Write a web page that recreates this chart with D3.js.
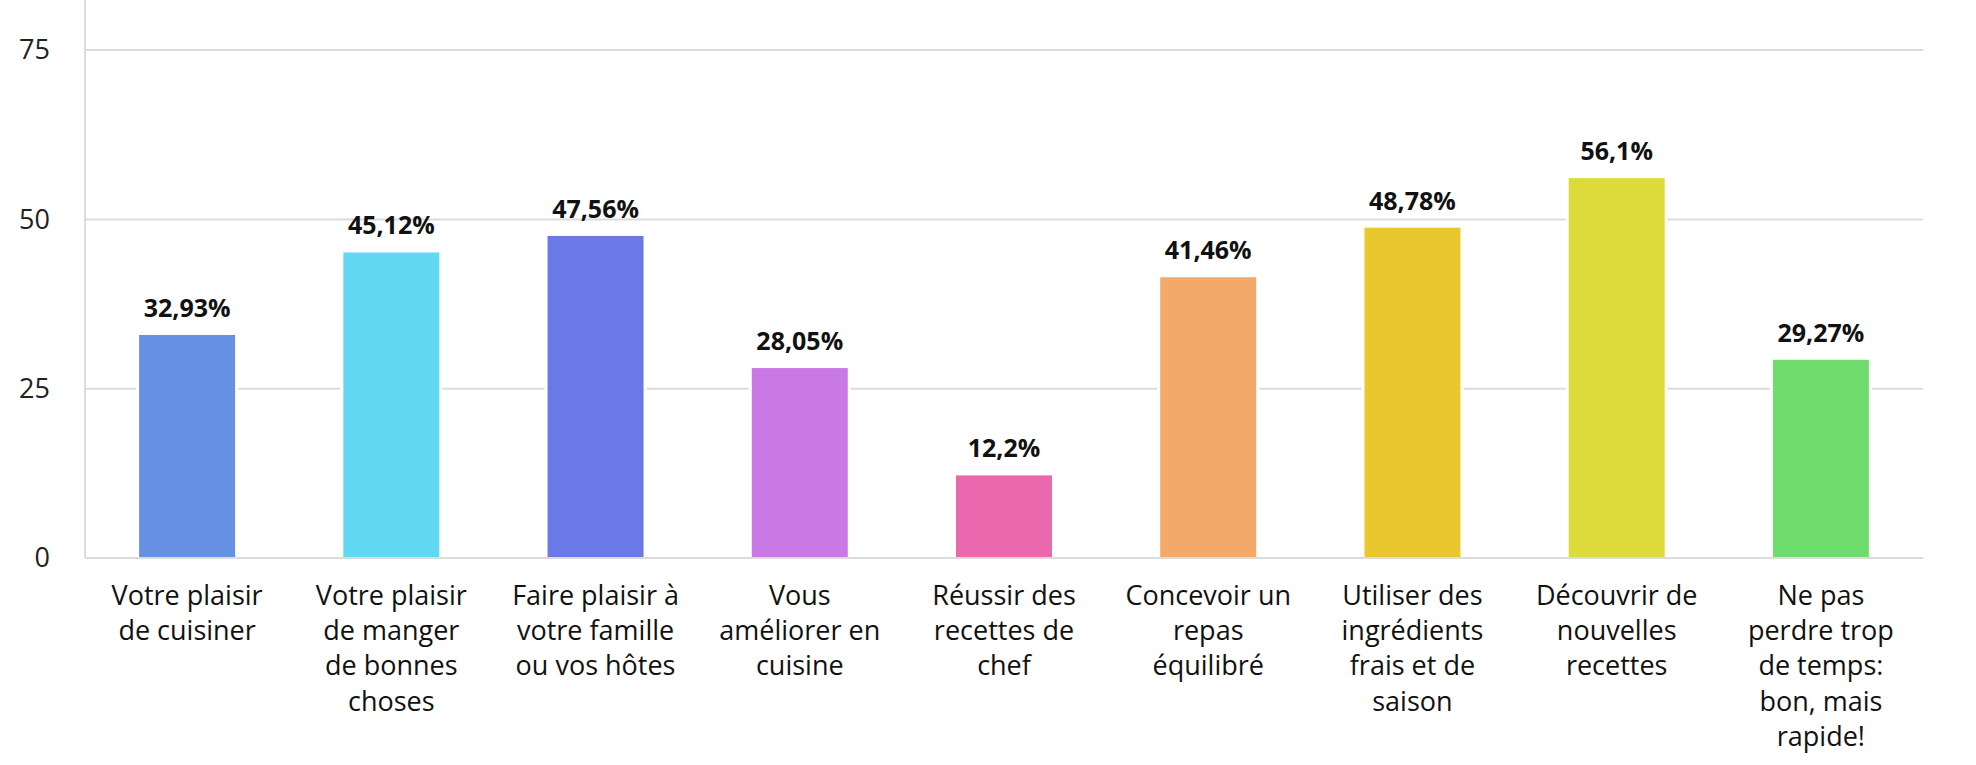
<!DOCTYPE html>
<html>
<head>
<meta charset="utf-8">
<script src="https://cdn.jsdelivr.net/npm/d3@7"></script>
<style>
  body { margin: 0; background: #fff; }
  text { font-family: "Open Sans", sans-serif; }
</style>
</head>
<body>
<script>
// categories, one array of lines per bar (as wrapped in the picture)
var categories = [
  ["Votre plaisir", "de cuisiner"],
  ["Votre plaisir", "de manger", "de bonnes", "choses"],
  ["Faire plaisir à", "votre famille", "ou vos hôtes"],
  ["Vous", "améliorer en", "cuisine"],
  ["Réussir des", "recettes de", "chef"],
  ["Concevoir un", "repas", "équilibré"],
  ["Utiliser des", "ingrédients", "frais et de", "saison"],
  ["Découvrir de", "nouvelles", "recettes"],
  ["Ne pas", "perdre trop", "de temps:", "bon, mais", "rapide!"]
];
var values = [32.93, 45.12, 47.56, 28.05, 12.2, 41.46, 48.78, 56.1, 29.27];
var valueLabels = ["32,93%", "45,12%", "47,56%", "28,05%", "12,2%", "41,46%", "48,78%", "56,1%", "29,27%"];
var colors = ["#6590e3", "#62d8f3", "#6b78e8", "#c879e6", "#ea68ae", "#f3a96a", "#e9c72f", "#dcdb3a", "#6edd6e"];
var yTicks = [0, 25, 50, 75];

var svgWidth = 1976;
var svgHeight = 765;
var plotLeft = 85, plotRight = 1923, plotTop = 0, plotBottom = 558;

window.onload = function() {
  var svg = d3.select("body")
              .append("svg")
              .attr("width", svgWidth)
              .attr("height", svgHeight);

  var xScale = d3.scaleBand()
                 .domain(d3.range(categories.length))
                 .range([plotLeft, plotRight])
                 .paddingInner(0.53)
                 .paddingOuter(0.265);

  // axis runs a bit above the 75 line
  var yScale = d3.scaleLinear()
                 .domain([0, 82.4])
                 .range([plotBottom, plotTop]);

  // gridlines
  svg.append("g")
     .selectAll("line")
     .data(yTicks)
     .enter()
     .append("line")
     .attr("x1", plotLeft)
     .attr("x2", plotRight)
     .attr("y1", function(d) { return yScale(d); })
     .attr("y2", function(d) { return yScale(d); })
     .attr("stroke", "#dcdcdc")
     .attr("stroke-width", 2);

  // y axis line
  svg.append("line")
     .attr("x1", plotLeft).attr("x2", plotLeft)
     .attr("y1", yScale(82.4)).attr("y2", plotBottom)
     .attr("stroke", "#dcdcdc")
     .attr("stroke-width", 2);

  // y tick labels
  var yAxis = svg.append("g")
                 .attr("transform", "translate(" + (plotLeft - 35) + ",0)")
                 .call(d3.axisLeft(yScale).tickValues(yTicks).tickSize(0).tickPadding(0));
  yAxis.select(".domain").remove();
  yAxis.selectAll("text")
       .style("font-family", "Open Sans, sans-serif")
       .style("font-size", "27px")
       .attr("fill", "#222");

  // white halo behind bars, cuts the gridlines around them
  svg.selectAll("rect.halo")
     .data(values)
     .enter()
     .append("rect")
     .attr("class", "halo")
     .attr("x", function(d, i) { return xScale(i) - 3; })
     .attr("width", xScale.bandwidth() + 6)
     .attr("y", function(d) { return yScale(d) - 2; })
     .attr("height", function(d) { return plotBottom - yScale(d) + 1; })
     .attr("fill", "#fff");

  // bars
  svg.selectAll("rect.bar")
     .data(values)
     .enter()
     .append("rect")
     .attr("class", "bar")
     .attr("x", function(d, i) { return xScale(i); })
     .attr("width", xScale.bandwidth())
     .attr("y", function(d) { return yScale(d); })
     .attr("height", function(d) { return plotBottom - 1 - yScale(d); })
     .attr("fill", function(d, i) { return colors[i]; });

  // value labels
  svg.selectAll("text.val")
     .data(values)
     .enter()
     .append("text")
     .attr("class", "val")
     .attr("x", function(d, i) { return xScale(i) + xScale.bandwidth() / 2; })
     .attr("y", function(d) { return yScale(d) - 18; })
     .attr("text-anchor", "middle")
     .style("font-size", "25px")
     .style("font-weight", "bold")
     .attr("fill", "#111")
     .text(function(d, i) { return valueLabels[i]; });

  // category labels
  var cat = svg.selectAll("text.cat")
     .data(categories)
     .enter()
     .append("text")
     .attr("class", "cat")
     .attr("text-anchor", "middle")
     .style("font-size", "27px")
     .attr("fill", "#111");

  cat.selectAll("tspan")
     .data(function(d, i) { return d.map(function(line) { return { line: line, i: i }; }); })
     .enter()
     .append("tspan")
     .attr("x", function(d) { return xScale(d.i) + xScale.bandwidth() / 2; })
     .attr("y", function(d, j) { return 605 + j * 35.2; })
     .text(function(d) { return d.line; });
};
</script>
</body>
</html>
